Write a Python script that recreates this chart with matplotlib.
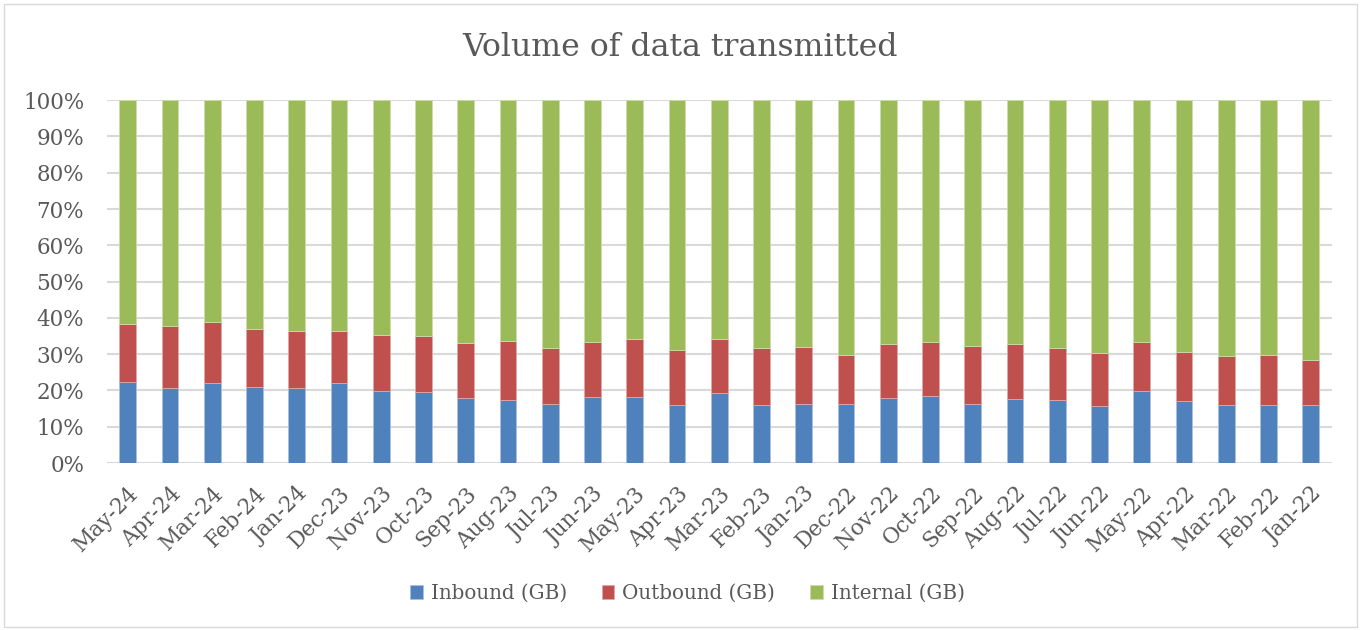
import matplotlib
matplotlib.use("Agg")
import matplotlib.pyplot as plt
import numpy as np
from matplotlib.patches import Rectangle

# months, newest first (as in the chart)
months = ["May-24", "Apr-24", "Mar-24", "Feb-24", "Jan-24", "Dec-23", "Nov-23",
          "Oct-23", "Sep-23", "Aug-23", "Jul-23", "Jun-23", "May-23", "Apr-23",
          "Mar-23", "Feb-23", "Jan-23", "Dec-22", "Nov-22", "Oct-22", "Sep-22",
          "Aug-22", "Jul-22", "Jun-22", "May-22", "Apr-22", "Mar-22", "Feb-22",
          "Jan-22"]

# shares in percent
inbound = [22.2, 20.7, 22.1, 20.9, 20.8, 22.0, 19.8, 19.6, 17.8, 17.3, 16.4,
           18.1, 18.2, 16.0, 19.2, 16.1, 16.3, 16.3, 17.8, 18.5, 16.4, 17.6,
           17.4, 15.6, 19.8, 17.1, 16.1, 15.9, 15.9]
outbound = [16.2, 17.1, 16.9, 16.0, 15.7, 14.5, 15.5, 15.5, 15.3, 16.2, 15.4,
            15.3, 16.0, 15.2, 15.1, 15.7, 15.6, 13.5, 14.9, 14.8, 15.9, 15.3,
            14.4, 14.7, 13.6, 13.6, 13.5, 13.9, 12.6]
internal = [61.6, 62.2, 61.0, 63.1, 63.5, 63.5, 64.7, 64.9, 66.9, 66.5, 68.2,
            66.6, 65.8, 68.8, 65.7, 68.2, 68.1, 70.2, 67.3, 66.7, 67.7, 67.1,
            68.2, 69.7, 66.6, 69.3, 70.4, 70.2, 71.5]

font = "DejaVu Serif"
txt = "#595959"

fig = plt.figure(figsize=(13.61, 6.30), dpi=100)
ax = fig.add_axes([0.0783, 0.265, 0.9003, 0.576])

x = np.arange(len(months))
w = 0.395
inb = np.array(inbound)
outb = np.array(outbound)
intl = np.array(internal)
ax.bar(x, inb, w, color="#4F81BD", edgecolor="#A9C0E0", linewidth=0.6, label="Inbound (GB)", zorder=3)
ax.bar(x, outb, w, bottom=inb, color="#C0504D", edgecolor="#E0A8A6", linewidth=0.6, label="Outbound (GB)", zorder=3)
ax.bar(x, intl, w, bottom=inb + outb, color="#9BBB59", edgecolor="#CCDDAA", linewidth=0.6, label="Internal (GB)", zorder=3)

ax.set_xlim(-0.5, len(months) - 0.5)
ax.set_ylim(0, 100)
ax.set_yticks(range(0, 101, 10))
ax.set_yticklabels([f"{v}%" for v in range(0, 101, 10)], fontfamily=font, fontsize=15.5, color=txt)
ax.set_xticks(x)
ax.set_xticklabels(months, rotation=45, ha="right", rotation_mode="anchor",
                   fontfamily=font, fontsize=15.5, color=txt)
ax.tick_params(axis="y", length=0, pad=16)
ax.tick_params(axis="x", length=0, pad=14)
ax.grid(axis="y", color="#D9D9D9", linewidth=1.5, zorder=0)
for s in ax.spines.values():
    s.set_visible(False)

fig.text(0.5, 0.924, "Volume of data transmitted", ha="center", va="center",
         fontfamily=font, fontsize=22.7, color=txt)

fig.legend(loc="center", bbox_to_anchor=(0.505, 0.058), ncol=3, frameon=False,
           prop={"family": font, "size": 14.3}, labelcolor=txt,
           handlelength=0.65, handleheight=0.65, columnspacing=1.75, handletextpad=0.4)

fig.patches.append(Rectangle((0.003, 0.004), 0.994, 0.99, transform=fig.transFigure,
                             fill=False, edgecolor="#D9D9D9", linewidth=1))

fig.savefig("out.png", dpi=100)
